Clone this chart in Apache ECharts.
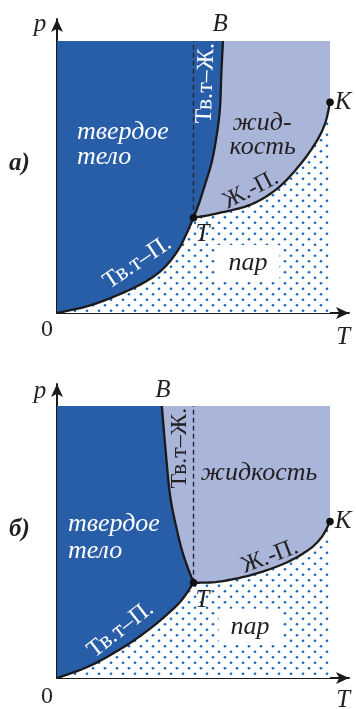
<!DOCTYPE html>
<html><head><meta charset="utf-8">
<script src="https://cdn.jsdelivr.net/npm/echarts@6/dist/echarts.min.js"></script>
<style>html,body{margin:0;padding:0;background:#fff}#c{width:356px;height:709px}</style>
</head><body><div id="c"></div>
<script>
// ---- DATA (relative units: T and p from 0 to 100) ----
// Panel а)
const sublimationA = [[0,0],[11.5,2.6],[23.7,7.2],[33.4,12.1],[39.6,17.0],[44.4,23.2],[47.5,29.3],[50,35]];
const fusionA      = [[50,35],[51.8,39.7],[54.2,47.1],[56.7,55.6],[58.5,65.4],[59.7,75.3],[60.2,88.0],[60.8,100]];
const vaporA       = [[50,35],[59.1,36.7],[71.3,40.0],[81.0,46.0],[89.0,54.5],[95.0,63.0],[98.3,70.0],[100,77.5]];
// Panel б)
const sublimationB = [[0,0],[11.5,4.2],[23.7,10.9],[33.4,17.6],[40.8,23.8],[45.7,28.7],[50,35]];
const fusionB      = [[50,35],[46.3,45.2],[43.8,55.0],[41.4,67.3],[39.6,85.7],[38.4,100]];
const vaporB       = [[50,35],[59.1,35.4],[71.3,37.9],[83.5,42.2],[92.1,47.1],[97.0,51.9],[100,57.5]];
const T_MAX = 100, P_MAX = 100;
// texts
const phaseNamesA = ['твердое', 'тело', 'жид-', 'кость', 'пар'];
const phaseNamesB = ['твердое', 'тело', 'жидкость', 'пар'];
const curveNames  = ['Тв.т–П.', 'Тв.т–Ж.', 'Ж.-П.'];
const pointNames  = ['T', 'K', 'B'];
const axisNames   = ['p', 'T', '0'];
const panelNames  = ['а)', 'б)'];

// ---- rendering helpers ----
const DARK = '#285ea8', LIGHT = '#aab5da', DOT = '#1c6bb8', INK = '#231f20';
const pc = document.createElement('canvas'); pc.width = 12; pc.height = 11;
const g = pc.getContext('2d');
g.fillStyle = '#ffffff'; g.fillRect(0, 0, 12, 11);
g.fillStyle = DOT;
[[3, 2.75], [9, 8.25]].forEach(function (d) { g.beginPath(); g.arc(d[0], d[1], 1.35, 0, Math.PI * 2); g.fill(); });
const dotPattern = { image: pc, repeat: 'repeat' };

function spline(pts) {
  const out = [];
  for (let i = 0; i < pts.length - 1; i++) {
    const p0 = pts[Math.max(i - 1, 0)], p1 = pts[i], p2 = pts[i + 1], p3 = pts[Math.min(i + 2, pts.length - 1)];
    for (let s = 0; s < 10; s++) {
      const t = s / 10, t2 = t * t, t3 = t2 * t;
      const f = function (k) {
        return 0.5 * (2 * p1[k] + (-p0[k] + p2[k]) * t + (2 * p0[k] - 5 * p1[k] + 4 * p2[k] - p3[k]) * t2 + (-p0[k] + 3 * p1[k] - 3 * p2[k] + p3[k]) * t3);
      };
      out.push([f(0), f(1)]);
    }
  }
  out.push(pts[pts.length - 1].slice());
  return out;
}

function panelRenderer(sub, fus, vap) {
  return function (params, api) {
    const c = function (p) { return api.coord(p); };
    const S = spline(sub.map(c)), F = spline(fus.map(c)), V = spline(vap.map(c));
    const O = c([0, 0]), TL = c([0, P_MAX]), TR = c([T_MAX, P_MAX]), BR = c([T_MAX, 0]);
    const triple = c(sub[sub.length - 1]), crit = c(vap[vap.length - 1]), dashTop = c([sub[sub.length - 1][0], P_MAX]);
    const solid = [O, TL].concat(F.slice().reverse(), S.slice().reverse());
    const liquid = F.concat([TR], V.slice().reverse());
    const vapour = S.concat(V, [BR]);
    const line = function (pts) { return { type: 'polyline', shape: { points: pts }, style: { stroke: '#1a1a1a', lineWidth: 2.3, fill: null } }; };
    return {
      type: 'group',
      children: [
        { type: 'polygon', shape: { points: vapour }, style: { fill: dotPattern } },
        { type: 'polygon', shape: { points: solid }, style: { fill: DARK } },
        { type: 'polygon', shape: { points: liquid }, style: { fill: LIGHT } },
        { type: 'line', shape: { x1: triple[0], y1: triple[1], x2: dashTop[0], y2: dashTop[1] }, style: { stroke: '#23283a', lineWidth: 1.4, lineDash: [5, 3] } },
        line(S), line(F), line(V),
        { type: 'circle', shape: { cx: triple[0], cy: triple[1], r: 3.8 }, style: { fill: '#111' } },
        { type: 'circle', shape: { cx: crit[0], cy: crit[1], r: 3.8 }, style: { fill: '#111' } }
      ]
    };
  };
}

function textRenderer(items) {
  return function (params, api) {
    const it = items[params.dataIndex];
    const p = api.coord([it.x, it.y]);
    const style = {
      text: it.text, fill: it.color || INK,
      fontFamily: '"Liberation Serif", "DejaVu Serif", serif',
      fontSize: it.size || 24, fontStyle: it.italic === false ? 'normal' : 'italic',
      fontWeight: it.bold ? 'bold' : 'normal',
      align: it.align || 'center', verticalAlign: 'middle'
    };
    if (it.bg) { style.backgroundColor = it.bg; style.padding = [5, 12, 5, 12]; }
    return { type: 'text', x: p[0], y: p[1], rotation: (it.rot || 0) * Math.PI / 180, style: style };
  };
}

const W = '#ffffff';
const labelsA = [
  { text: phaseNamesA[0], x: 7.3, y: 66.4, align: 'left', color: W, size: 26 },
  { text: phaseNamesA[1], x: 7.3, y: 57.4, align: 'left', color: W, size: 26 },
  { text: phaseNamesA[2], x: 64.3, y: 69.9, align: 'left', size: 26 },
  { text: phaseNamesA[3], x: 63.2, y: 61.0, align: 'left', size: 26 },
  { text: phaseNamesA[4], x: 70.0, y: 18.4, size: 26, bg: W },
  { text: curveNames[0], x: 29.5, y: 18.5, rot: 34, italic: false, color: W, size: 24 },
  { text: curveNames[1], x: 54.5, y: 84.5, rot: 88, italic: false, color: W, size: 24 },
  { text: curveNames[2], x: 71.0, y: 45.3, rot: 27, italic: false, size: 24 },
  { text: pointNames[0], x: 53.3, y: 29.0, size: 25 },
  { text: pointNames[1], x: 104.8, y: 77.5, size: 25 },
  { text: pointNames[2], x: 59.8, y: 106.0, size: 25 },
  { text: axisNames[0], x: -6.2, y: 106.0, size: 25 },
  { text: axisNames[1], x: 104.8, y: -8.8, size: 25 },
  { text: axisNames[2], x: -3.7, y: -6.3, size: 24, italic: false },
  { text: panelNames[0], x: -13.8, y: 55.0, size: 25, bold: true }
];
const labelsB = [
  { text: phaseNamesB[0], x: 4.0, y: 56.6, align: 'left', color: W, size: 26 },
  { text: phaseNamesB[1], x: 4.0, y: 46.6, align: 'left', color: W, size: 26 },
  { text: phaseNamesB[2], x: 74.0, y: 75.4, size: 26 },
  { text: phaseNamesB[3], x: 70.7, y: 18.8, size: 26, bg: W },
  { text: curveNames[0], x: 23.3, y: 17.8, rot: 38, italic: false, color: W, size: 24 },
  { text: curveNames[1], x: 45.0, y: 84.5, rot: 90, italic: false, size: 24 },
  { text: curveNames[2], x: 78.0, y: 44.6, rot: 21, italic: false, size: 24 },
  { text: pointNames[0], x: 53.3, y: 28.4, size: 25 },
  { text: pointNames[1], x: 104.8, y: 57.7, size: 25 },
  { text: pointNames[2], x: 38.8, y: 105.6, size: 25 },
  { text: axisNames[0], x: -6.2, y: 105.2, size: 25 },
  { text: axisNames[1], x: 104.8, y: -8.1, size: 25 },
  { text: axisNames[2], x: -3.7, y: -7.0, size: 24, italic: false },
  { text: panelNames[1], x: -13.8, y: 54.4, size: 25, bold: true }
];

// scale: 2.73 px per T unit, 2.72 px per p unit
const X_END = 292 / 2.73, Y_END = 294 / 2.72;
function xAx(i) {
  return { type: 'value', gridIndex: i, min: 0, max: X_END,
    axisLine: { show: true, onZero: false, symbol: ['none', 'arrow'], symbolSize: [9, 13], lineStyle: { color: '#1a1a1a', width: 2 } },
    axisTick: { show: false }, axisLabel: { show: false }, splitLine: { show: false } };
}
function yAx(i) {
  return { type: 'value', gridIndex: i, min: 0, max: Y_END,
    axisLine: { show: true, onZero: false, symbol: ['none', 'arrow'], symbolSize: [9, 13], lineStyle: { color: '#1a1a1a', width: 2 } },
    axisTick: { show: false }, axisLabel: { show: false }, splitLine: { show: false } };
}

const chart = echarts.init(document.getElementById('c'), null, { renderer: 'canvas' });
chart.setOption({
  animation: false,
  backgroundColor: '#ffffff',
  grid: [
    { left: 57, top: 19, width: 292, height: 294 },
    { left: 57, top: 384, width: 292, height: 294 }
  ],
  xAxis: [xAx(0), xAx(1)],
  yAxis: [yAx(0), yAx(1)],
  series: [
    { type: 'custom', xAxisIndex: 0, yAxisIndex: 0, z: 1, data: [0], renderItem: panelRenderer(sublimationA, fusionA, vaporA), silent: true },
    { type: 'custom', xAxisIndex: 1, yAxisIndex: 1, z: 1, data: [0], renderItem: panelRenderer(sublimationB, fusionB, vaporB), silent: true },
    { type: 'custom', xAxisIndex: 0, yAxisIndex: 0, z: 5, data: labelsA.map(function (d, i) { return i; }), renderItem: textRenderer(labelsA), silent: true },
    { type: 'custom', xAxisIndex: 1, yAxisIndex: 1, z: 5, data: labelsB.map(function (d, i) { return i; }), renderItem: textRenderer(labelsB), silent: true }
  ]
});
</script>
</body></html>
